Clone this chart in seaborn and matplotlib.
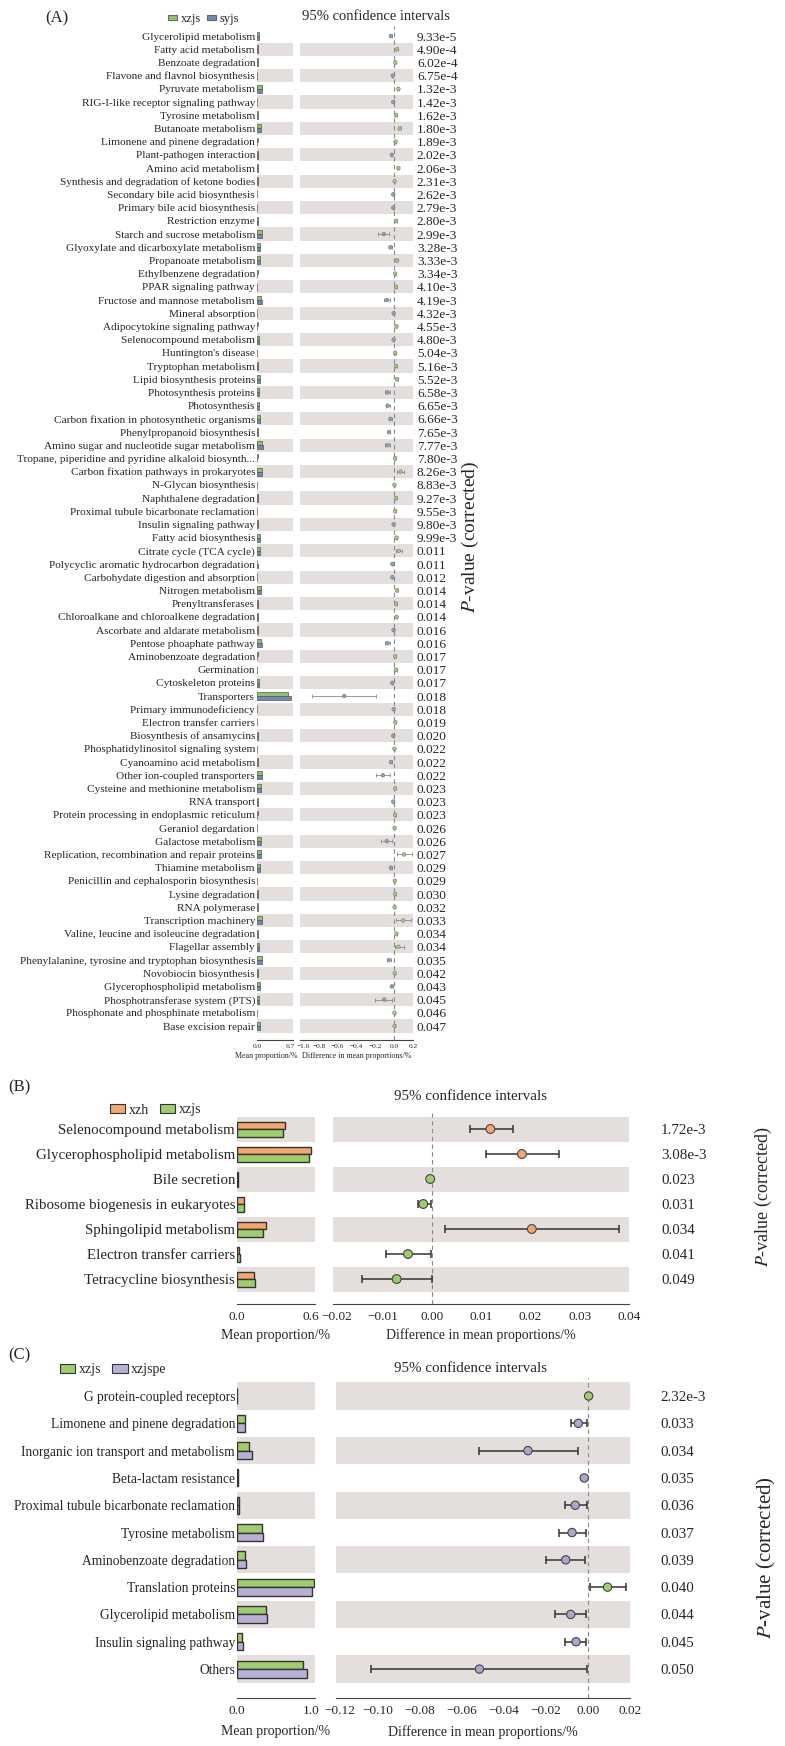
import numpy as np
import pandas as pd
import matplotlib
matplotlib.use("Agg")
import matplotlib.pyplot as plt
import matplotlib.transforms as mtransforms
from matplotlib.ticker import FuncFormatter
import seaborn as sns
from matplotlib.patches import Patch

sns.set_theme(style="white")
plt.rcParams["font.family"] = ["Liberation Serif", "DejaVu Serif"]
plt.rcParams["mathtext.fontset"] = "stix"

# ---------------- panel A : xzjs vs syjs ----------------
a_paths = [
    "Glycerolipid metabolism", "Fatty acid metabolism", "Benzoate degradation",
    "Flavone and flavnol biosynthesis", "Pyruvate metabolism", "RIG-I-like receptor signaling pathway",
    "Tyrosine metabolism", "Butanoate metabolism", "Limonene and pinene degradation",
    "Plant-pathogen interaction", "Amino acid metabolism", "Synthesis and degradation of ketone bodies",
    "Secondary bile acid biosynthesis", "Primary bile acid biosynthesis", "Restriction enzyme",
    "Starch and sucrose metabolism", "Glyoxylate and dicarboxylate metabolism", "Propanoate metabolism",
    "Ethylbenzene degradation", "PPAR signaling pathway", "Fructose and mannose metabolism",
    "Mineral absorption", "Adipocytokine signaling pathway", "Selenocompound metabolism",
    "Huntington's disease", "Tryptophan metabolism", "Lipid biosynthesis proteins",
    "Photosynthesis proteins", "Photosynthesis", "Carbon fixation in photosynthetic organisms",
    "Phenylpropanoid biosynthesis", "Amino sugar and nucleotide sugar metabolism",
    "Tropane, piperidine and pyridine alkaloid biosynth...", "Carbon fixation pathways in prokaryotes",
    "N-Glycan biosynthesis", "Naphthalene degradation", "Proximal tubule bicarbonate reclamation",
    "Insulin signaling pathway", "Fatty acid biosynthesis", "Citrate cycle (TCA cycle)",
    "Polycyclic aromatic hydrocarbon degradation", "Carbohydate digestion and absorption",
    "Nitrogen metabolism", "Prenyltransferases", "Chloroalkane and chloroalkene degradation",
    "Ascorbate and aldarate metabolism", "Pentose phoaphate pathway", "Aminobenzoate degradation",
    "Germination", "Cytoskeleton proteins", "Transporters", "Primary immunodeficiency",
    "Electron transfer carriers", "Biosynthesis of ansamycins", "Phosphatidylinositol signaling system",
    "Cyanoamino acid metabolism", "Other ion-coupled transporters", "Cysteine and methionine metabolism",
    "RNA transport", "Protein processing in endoplasmic reticulum", "Geraniol degardation",
    "Galactose metabolism", "Replication, recombination and repair proteins", "Thiamine metabolism",
    "Penicillin and cephalosporin biosynthesis", "Lysine degradation", "RNA polymerase",
    "Transcription machinery", "Valine, leucine and isoleucine degradation", "Flagellar assembly",
    "Phenylalanine, tyrosine and tryptophan biosynthesis", "Novobiocin biosynthesis",
    "Glycerophospholipid metabolism", "Phosphotransferase system (PTS)",
    "Phosphonate and phosphinate metabolism", "Base excision repair",
]
a_xzjs = [0.38, 0.22, 0.16, 0.05, 0.92, 0.05, 0.20, 0.72, 0.10, 0.14, 0.17, 0.10, 0.05, 0.07, 0.21,
          0.86, 0.48, 0.62, 0.10, 0.09, 0.82, 0.05, 0.10, 0.44, 0.05, 0.15, 0.62, 0.33, 0.33, 0.58,
          0.14, 1.02, 0.10, 1.00, 0.05, 0.16, 0.05, 0.10, 0.52, 0.62, 0.09, 0.05, 0.78, 0.26, 0.15,
          0.10, 0.82, 0.10, 0.05, 0.34, 5.85, 0.05, 0.03, 0.10, 0.05, 0.19, 0.92, 0.80, 0.10, 0.10,
          0.05, 0.66, 0.82, 0.58, 0.05, 0.15, 0.15, 0.92, 0.15, 0.46, 0.84, 0.15, 0.54, 0.33, 0.05, 0.50]
a_syjs = [0.40, 0.19, 0.14, 0.06, 0.88, 0.06, 0.18, 0.66, 0.09, 0.16, 0.14, 0.10, 0.06, 0.08, 0.19,
          0.95, 0.52, 0.58, 0.09, 0.08, 0.88, 0.05, 0.09, 0.46, 0.04, 0.14, 0.58, 0.37, 0.37, 0.61,
          0.16, 1.06, 0.09, 0.92, 0.05, 0.14, 0.04, 0.11, 0.48, 0.57, 0.10, 0.06, 0.73, 0.24, 0.13,
          0.10, 0.88, 0.09, 0.04, 0.36, 6.40, 0.05, 0.03, 0.11, 0.05, 0.21, 0.98, 0.76, 0.11, 0.09,
          0.04, 0.72, 0.74, 0.62, 0.04, 0.14, 0.14, 0.86, 0.13, 0.42, 0.88, 0.14, 0.57, 0.37, 0.04, 0.48]
a_diff = [-0.035, 0.030, 0.012, -0.015, 0.045, -0.010, 0.020, 0.060, 0.015, -0.025, 0.045, 0.005,
          -0.010, -0.010, 0.020, -0.110, -0.040, 0.030, 0.010, 0.020, -0.076, -0.005, 0.025, -0.006,
          0.010, 0.020, 0.030, -0.070, -0.070, -0.040, -0.055, -0.070, 0.010, 0.067, 0.003, 0.020,
          0.010, -0.006, 0.025, 0.050, -0.020, -0.020, 0.030, 0.020, 0.025, -0.006, -0.070, 0.010,
          0.020, -0.020, -0.530, -0.005, 0.012, -0.010, 0.003, -0.035, -0.120, 0.010, -0.010, 0.010,
          0.005, -0.078, 0.106, -0.035, 0.007, 0.010, 0.005, 0.095, 0.025, 0.045, -0.055, 0.006,
          -0.025, -0.105, 0.003, 0.005]
a_lo = [-0.045, 0.020, 0.006, -0.022, 0.035, -0.015, 0.014, 0.045, 0.010, -0.032, 0.035, 0.000,
        -0.015, -0.015, 0.013, -0.175, -0.052, 0.018, 0.005, 0.014, -0.105, -0.010, 0.018, -0.012,
        0.005, 0.014, 0.020, -0.095, -0.092, -0.052, -0.065, -0.095, 0.005, 0.032, -0.002, 0.012,
        0.005, -0.012, 0.015, 0.020, -0.026, -0.026, 0.020, 0.012, 0.018, -0.012, -0.100, 0.004,
        0.014, -0.028, -0.870, -0.010, 0.006, -0.016, -0.002, -0.045, -0.190, 0.002, -0.016, 0.004,
        0.000, -0.135, 0.028, -0.045, 0.002, 0.004, 0.000, 0.018, 0.016, 0.005, -0.072, 0.001,
        -0.034, -0.200, -0.002, 0.000]
a_hi = [-0.025, 0.040, 0.018, -0.008, 0.056, -0.005, 0.026, 0.075, 0.020, -0.018, 0.055, 0.010,
        -0.005, -0.005, 0.027, -0.055, -0.028, 0.042, 0.015, 0.026, -0.045, 0.000, 0.032, 0.000,
        0.015, 0.026, 0.042, -0.045, -0.048, -0.028, -0.045, -0.045, 0.015, 0.105, 0.008, 0.028,
        0.015, 0.000, 0.035, 0.085, -0.014, -0.014, 0.042, 0.028, 0.032, 0.000, -0.040, 0.016,
        0.026, -0.012, -0.190, 0.000, 0.018, -0.004, 0.008, -0.025, -0.045, 0.018, -0.004, 0.016,
        0.010, -0.018, 0.190, -0.025, 0.012, 0.016, 0.010, 0.180, 0.034, 0.100, -0.038, 0.011,
        -0.016, -0.025, 0.008, 0.010]
a_pvals = ["9.33e-5", "4.90e-4", "6.02e-4", "6.75e-4", "1.32e-3", "1.42e-3", "1.62e-3", "1.80e-3",
           "1.89e-3", "2.02e-3", "2.06e-3", "2.31e-3", "2.62e-3", "2.79e-3", "2.80e-3", "2.99e-3",
           "3.28e-3", "3.33e-3", "3.34e-3", "4.10e-3", "4.19e-3", "4.32e-3", "4.55e-3", "4.80e-3",
           "5.04e-3", "5.16e-3", "5.52e-3", "6.58e-3", "6.65e-3", "6.66e-3", "7.65e-3", "7.77e-3",
           "7.80e-3", "8.26e-3", "8.83e-3", "9.27e-3", "9.55e-3", "9.80e-3", "9.99e-3", "0.011",
           "0.011", "0.012", "0.014", "0.014", "0.014", "0.016", "0.016", "0.017", "0.017", "0.017",
           "0.018", "0.018", "0.019", "0.020", "0.022", "0.022", "0.022", "0.023", "0.023", "0.023",
           "0.026", "0.026", "0.027", "0.029", "0.029", "0.030", "0.032", "0.033", "0.034", "0.034",
           "0.035", "0.042", "0.043", "0.045", "0.046", "0.047"]

# ---------------- panel B : xzh vs xzjs ----------------
b_paths = ["Selenocompound metabolism", "Glycerophospholipid metabolism", "Bile secretion",
           "Ribosome biogenesis in eukaryotes", "Sphingolipid metabolism",
           "Electron transfer carriers", "Tetracycline biosynthesis"]
b_xzh = [0.370, 0.573, 0.005, 0.054, 0.226, 0.015, 0.128]
b_xzjs = [0.354, 0.556, 0.005, 0.054, 0.202, 0.020, 0.135]
b_diff = [0.0119, 0.0183, -0.0003, -0.0017, 0.0203, -0.0048, -0.0071]
b_lo = [0.0077, 0.0110, -0.0004, -0.0028, 0.0027, -0.0092, -0.0142]
b_hi = [0.0164, 0.0258, -0.0002, -0.0002, 0.0380, -0.0002, 0.0000]
b_pvals = ["1.72e-3", "3.08e-3", "0.023", "0.031", "0.034", "0.041", "0.049"]

# ---------------- panel C : xzjs vs xzjspe ----------------
c_paths = ["G protein-coupled receptors", "Limonene and pinene degradation",
           "Inorganic ion transport and metabolism", "Beta-lactam resistance",
           "Proximal tubule bicarbonate reclamation", "Tyrosine metabolism",
           "Aminobenzoate degradation", "Translation proteins", "Glycerolipid metabolism",
           "Insulin signaling pathway", "Others"]
c_xzjs = [0.005, 0.100, 0.160, 0.015, 0.020, 0.317, 0.100, 0.990, 0.378, 0.067, 0.850]
c_xzjspe = [0.005, 0.100, 0.190, 0.018, 0.025, 0.328, 0.110, 0.967, 0.383, 0.072, 0.900]
c_diff = [0.0003, -0.0046, -0.0286, -0.0018, -0.0061, -0.0076, -0.0106, 0.0093, -0.0082, -0.0057, -0.0517]
c_lo = [0.0002, -0.0082, -0.0520, -0.0026, -0.0108, -0.0140, -0.0200, 0.0010, -0.0157, -0.0108, -0.1034]
c_hi = [0.0004, -0.0007, -0.0046, -0.0010, -0.0005, -0.0008, -0.0012, 0.0180, -0.0008, -0.0008, -0.0003]
c_pvals = ["2.32e-3", "0.033", "0.034", "0.035", "0.036", "0.037", "0.039", "0.040", "0.044", "0.045", "0.050"]

W, H = 785, 1746
fig = plt.figure(figsize=(W / 100, H / 100), dpi=100)
renderer = fig.canvas.get_renderer()
BAND = "#e4dfdc"


def px_axes(x0, x1, ytop, ybot):
    return fig.add_axes([x0 / W, 1 - ybot / H, (x1 - x0) / W, (ybot - ytop) / H])


def fit_size(text, width_px, base=10.0):
    # font size at which the longest label spans width_px
    t = fig.text(0, 0, text, fontsize=base)
    w = t.get_window_extent(renderer).width
    t.remove()
    return base * width_px / w


def fmt(dec):
    def f(v, pos):
        if abs(v) < 1e-12:
            v = 0.0
        return f"{v:.{dec}f}".replace("-", "\u2212")
    return FuncFormatter(f)


def nudge(label, dx):
    label.set_transform(label.get_transform() + mtransforms.ScaledTranslation(dx / 100, 0, fig.dpi_scale_trans))


def panel(names, v1, v2, diff, lo, hi, pvals, groups, colors, dot_colors, box, lims, st):
    n = len(names)
    ax_bar = px_axes(box["bx0"], box["bx1"], box["top"], box["bot"])
    ax_dif = px_axes(box["dx0"], box["dx1"], box["top"], box["bot"])

    df = pd.DataFrame({"pathway": list(names) * 2,
                       "group": [groups[0]] * n + [groups[1]] * n,
                       "value": list(v1) + list(v2)})
    sns.barplot(data=df, x="value", y="pathway", hue="group", order=names, hue_order=groups,
                palette=colors, orient="h", width=st["bar_w"], saturation=1, errorbar=None,
                edgecolor=st["edge"], linewidth=st["edge_lw"], legend=False, ax=ax_bar)

    y = np.arange(n)
    d = np.array(diff)
    ax_dif.errorbar(d, y, xerr=[d - np.array(lo), np.array(hi) - d], fmt="none",
                    ecolor=st["err_c"], elinewidth=st["err_lw"], capsize=st["cap"],
                    capthick=st["err_lw"], zorder=2)
    side = np.where(d > 0, groups[0], groups[1])
    sns.scatterplot(x=d, y=y, hue=side, palette=dot_colors, s=st["dot_s"],
                    edgecolor=st["dot_ec"], linewidth=st["dot_lw"], legend=False, ax=ax_dif, zorder=3)
    ax_dif.axvline(0, color="#8a8a8a", ls=(0, (4, 3)), lw=0.8, zorder=1)

    for ax in (ax_bar, ax_dif):
        for i in range(n):
            if i % 2 == st["band_par"]:
                ax.axhspan(i - 0.5, i + 0.5, color=BAND, lw=0, zorder=0)
        ax.set_ylim(box["ylo"], box["yhi"])
        sns.despine(ax=ax, left=True)
        ax.spines["bottom"].set_color("#444444")
        ax.spines["bottom"].set_linewidth(0.8)
        ax.tick_params(axis="x", direction="in", length=st["tick_len"], width=0.8, color="#444444",
                       labelsize=st["tick_fs"], pad=st["tick_pad"])
        ax.set_ylabel("")
        ax.set_facecolor("none")

    ax_bar.set_xlim(0, lims["bar"][-1])
    ax_bar.set_xticks(lims["bar"])
    ax_bar.xaxis.set_major_formatter(fmt(1))
    ax_bar.set_yticks(y)
    ax_bar.set_yticklabels(names)
    ax_bar.tick_params(axis="y", length=0, pad=st["lab_pad"], labelsize=st["lab_fs"])
    ax_bar.set_xlabel("Mean proportion/%", fontsize=st["xl_fs"], labelpad=st["xl_pad"])
    ax_bar.xaxis.label.set_x(st["xl_pos"][0])

    ax_dif.set_xlim(lims["dif"][0], lims["dif"][-1])
    ax_dif.set_xticks(lims["dif"])
    ax_dif.xaxis.set_major_formatter(fmt(st["dec"]))
    ax_dif.yaxis.tick_right()
    ax_dif.set_yticks(y)
    ax_dif.set_yticklabels(pvals)
    ax_dif.tick_params(axis="y", length=0, pad=st["p_pad"], labelsize=st["p_fs"])
    ax_dif.set_xlabel("Difference in mean proportions/%", fontsize=st["xl_fs"], labelpad=st["xl_pad"])
    ax_dif.xaxis.label.set_x(st["xl_pos"][1])

    # keep the touching end labels ("0.6" / "-0.02") apart
    nudge(ax_bar.get_xticklabels()[-1], -st["nudge"])
    nudge(ax_dif.get_xticklabels()[0], st["nudge"])
    return ax_bar, ax_dif


def ftext(x, y, s, **kw):
    fig.text(x / W, 1 - y / H, s, **kw)


def legend(x, y, groups, colors, ec, fs, hl, hh, cs):
    handles = [Patch(facecolor=c, edgecolor=ec, linewidth=0.8, label=g) for g, c in zip(groups, colors)]
    fig.legend(handles=handles, loc="center left", bbox_to_anchor=(x / W, 1 - y / H), ncol=2,
               frameon=False, fontsize=fs, handlelength=hl, handleheight=hh, handletextpad=0.25,
               columnspacing=cs, borderpad=0, borderaxespad=0)


# panel A
ga = ["xzjs", "syjs"]
col_a = ["#96c265", "#6f8db2"]
panel(a_paths, a_xzjs, a_syjs, a_diff, a_lo, a_hi, a_pvals, ga, col_a,
      {"xzjs": "#a9cc7c", "syjs": "#8ea1bd"},
      dict(bx0=257, bx1=293, dx0=300, dx1=413, top=26, bot=1040, ylo=76.06, yhi=-0.76),
      dict(bar=[0, 6.7], dif=[-1.0, -0.8, -0.6, -0.4, -0.2, 0.0, 0.2]),
      dict(bar_w=0.6, edge="#555555", edge_lw=0.5, err_c="#8a8a8a", err_lw=0.6, cap=1.2,
           dot_s=7, dot_ec="#777777", dot_lw=0.4, band_par=1, tick_len=3, tick_fs=5.3,
           tick_pad=3, lab_pad=1.4, lab_fs=8.1, xl_fs=5.8, xl_pad=2, p_pad=2.8, p_fs=9.6,
           dec=1, xl_pos=(0.25, 0.5), nudge=3))
ftext(45, 18, "(A)", fontsize=12, va="center")
ftext(376, 17, "95% confidence intervals", fontsize=10.5, ha="center", va="center")
legend(168, 19, ga, col_a, "#666666", 9, 0.75, 0.3, 0.5)
ftext(470, 537, "$P$-value (corrected)", fontsize=14, rotation=90, ha="center", va="center")

# panel B
gb = ["xzh", "xzjs"]
col_b = ["#f4a66c", "#9dcd6c"]
panel(b_paths, b_xzh, b_xzjs, b_diff, b_lo, b_hi, b_pvals, gb, col_b,
      {"xzh": "#f4a66c", "xzjs": "#9dcd6c"},
      dict(bx0=237, bx1=315, dx0=333, dx1=629, top=1110, bot=1304, ylo=7.0, yhi=-0.76),
      dict(bar=[0, 0.6], dif=[-0.02, -0.01, 0.0, 0.01, 0.02, 0.03, 0.04]),
      dict(bar_w=0.6, edge="#333333", edge_lw=1.0, err_c="#333333", err_lw=1.1, cap=3,
           dot_s=40, dot_ec="#444444", dot_lw=0.8, band_par=0, tick_len=5, tick_fs=9.5,
           tick_pad=5, lab_pad=1.4, lab_fs=10.7, xl_fs=10, xl_pad=4, p_pad=23, p_fs=10.8,
           dec=2, xl_pos=(0.5, 0.5), nudge=4))
ftext(8, 1087, "(B)", fontsize=12, va="center")
ftext(470, 1097, "95% confidence intervals", fontsize=10.8, ha="center", va="center")
legend(110, 1110, gb, col_b, "#333333", 10, 1.1, 0.6, 0.8)
ftext(763, 1197, "$P$-value (corrected)", fontsize=13, rotation=90, ha="center", va="center")

# panel C
gc = ["xzjs", "xzjspe"]
col_c = ["#9dcd6c", "#b8afd7"]
c_fs = fit_size(max(c_paths, key=len), 221)
panel(c_paths, c_xzjs, c_xzjspe, c_diff, c_lo, c_hi, c_pvals, gc, col_c,
      {"xzjs": "#9dcd6c", "xzjspe": "#aba5cf"},
      dict(bx0=237, bx1=315, dx0=336, dx1=630, top=1378, bot=1698, ylo=11.06, yhi=-0.66),
      dict(bar=[0, 1.0], dif=[-0.12, -0.10, -0.08, -0.06, -0.04, -0.02, 0.0, 0.02]),
      dict(bar_w=0.62, edge="#333333", edge_lw=1.0, err_c="#333333", err_lw=1.1, cap=3,
           dot_s=36, dot_ec="#444444", dot_lw=0.8, band_par=0, tick_len=5, tick_fs=9.5,
           tick_pad=5, lab_pad=1.4, lab_fs=c_fs, xl_fs=10, xl_pad=6, p_pad=22, p_fs=10.8,
           dec=2, xl_pos=(0.5, 0.5), nudge=4))
ftext(8, 1355, "(C)", fontsize=12, va="center")
ftext(470, 1368, "95% confidence intervals", fontsize=10.8, ha="center", va="center")
legend(60, 1370, gc, col_c, "#333333", 10, 1.1, 0.6, 0.8)
ftext(766, 1558, "$P$-value (corrected)", fontsize=15, rotation=90, ha="center", va="center")

fig.savefig("out.png", dpi=100)
